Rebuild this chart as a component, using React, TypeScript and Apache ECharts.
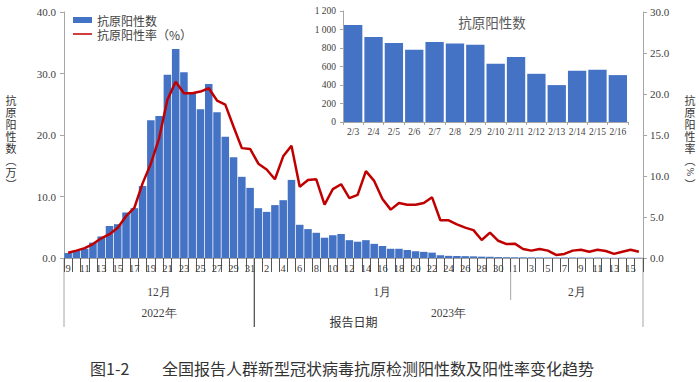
import React, { useEffect, useRef } from "react";
import * as echarts from "echarts";

// Categories (report dates)
const decDays = [9, 10, 11, 12, 13, 14, 15, 16, 17, 18, 19, 20, 21, 22, 23, 24, 25, 26, 27, 28, 29, 30, 31];
const janDays = [1, 2, 3, 4, 5, 6, 7, 8, 9, 10, 11, 12, 13, 14, 15, 16, 17, 18, 19, 20, 21, 22, 23, 24, 25, 26, 27, 28, 29, 30, 31];
const febDays = [1, 2, 3, 4, 5, 6, 7, 8, 9, 10, 11, 12, 13, 14, 15, 16];
const dayLabels = [...decDays, ...janDays, ...febDays].map(String);

// 抗原阳性数（万）
const positiveCount = [
  0.8, 1.2, 1.5, 2.5, 3.5, 5.2, 5.5, 7.4, 8.1, 11.7, 22.4, 23.1, 29.8, 34.0, 30.2, 26.8, 24.2, 28.3, 23.7, 19.7, 16.4, 13.2, 11.4,
  8.1, 7.5, 8.6, 9.4, 12.7, 5.4, 4.7, 4.1, 3.3, 3.7, 3.9, 2.9, 2.65, 2.9, 2.3, 1.95, 1.5, 1.5, 1.3, 1.1, 1.0, 0.87, 0.45, 0.35, 0.33, 0.3, 0.27, 0.22, 0.2, 0.15, 0.13,
  0.12, 0.11, 0.105, 0.092, 0.0855, 0.078, 0.0866, 0.0848, 0.0834, 0.0629, 0.0704, 0.0521, 0.0399, 0.0553, 0.0564, 0.0507,
];

// 抗原阳性率（%）
const positiveRate = [
  0.65, 0.9, 1.2, 1.7, 2.4, 2.9, 3.7, 5.1, 6.1, 9.1, 11.5, 14.6, 19.3, 21.5, 20.1, 20.1, 20.3, 20.7, 19.2, 18.7, 16.0, 13.4, 13.3,
  11.5, 10.8, 9.6, 12.4, 13.7, 8.7, 9.5, 9.6, 6.5, 8.4, 9.0, 7.3, 7.7, 10.6, 9.4, 7.2, 5.9, 6.7, 6.5, 6.5, 6.7, 7.4, 4.6, 4.6, 4.1, 3.7, 3.4, 2.2, 3.1, 2.1, 1.7,
  1.75, 1.1, 0.9, 1.1, 0.9, 0.37, 0.5, 0.9, 1.0, 0.77, 1.0, 0.85, 0.5, 0.77, 1.0, 0.77,
];

// Inset: 2/3 - 2/16 抗原阳性数
const insetLabels = ["2/3", "2/4", "2/5", "2/6", "2/7", "2/8", "2/9", "2/10", "2/11", "2/12", "2/13", "2/14", "2/15", "2/16"];
const insetCount = [1049, 920, 855, 780, 866, 848, 834, 629, 704, 521, 399, 553, 564, 507];

const monthLabels = ["12月", "1月", "2月"];
const yearLabels = ["2022年", "2023年"];
const leftName = ["抗", "原", "阳", "性", "数", "︵", "万", "︶"];
const rightName = ["抗", "原", "阳", "性", "率", "︵", "%", "︶"];

const SERIF = "'Liberation Serif', 'Times New Roman', serif";
const CJK = "'Noto Sans CJK SC', sans-serif";
const BLUE = "#4472C4";
const RED = "#C00000";
const GREY = "#A6A6A6";
const TXT = "#404040";

export default function App() {
  const ref = useRef<HTMLDivElement>(null);
  useEffect(() => {
    const chart = echarts.init(ref.current!, null, { renderer: "svg" });
    const option: any = {
      animation: false,
      textStyle: { fontFamily: SERIF },
      grid: [
        { left: 64, right: 56, top: 12, bottom: 124 },
        { left: 343, right: 71, top: 11, bottom: 260 },
      ],
      legend: {
        data: [
          { name: "抗原阳性数", icon: "rect" },
          { name: "抗原阳性率（%）", icon: "path://M0,0 L20,0 L20,0.01 Z M0,2.2 L20,2.2 L20,3.8 L0,3.8 Z M0,6 L20,6 L20,5.99 Z" },
        ],
        orient: "vertical",
        left: 68,
        top: 9,
        itemWidth: 19,
        itemHeight: 6,
        itemGap: 2,
        textStyle: { fontFamily: CJK, fontSize: 12, color: TXT },
      },
      xAxis: [
        {
          type: "category",
          gridIndex: 0,
          data: dayLabels,
          axisLine: { lineStyle: { color: GREY, width: 1 } },
          axisTick: { show: true, interval: 0, length: 14, lineStyle: { color: "#555" } },
          axisLabel: { interval: 1, fontSize: 10.5, color: TXT, margin: 5, fontFamily: SERIF },
        },
        {
          type: "category",
          gridIndex: 1,
          data: insetLabels,
          axisLine: { lineStyle: { color: GREY } },
          axisTick: { show: true, interval: 0, length: 3, lineStyle: { color: GREY } },
          axisLabel: { interval: 0, fontSize: 9.5, color: TXT, margin: 5, fontFamily: SERIF },
        },
      ],
      yAxis: [
        {
          type: "value",
          gridIndex: 0,
          min: 0,
          max: 40,
          interval: 10,
          axisLine: { show: true, lineStyle: { color: GREY } },
          axisTick: { show: true, length: 4, lineStyle: { color: GREY } },
          splitLine: { show: false },
          axisLabel: { fontSize: 11, color: TXT, margin: 8, formatter: (v: number) => v.toFixed(1) },
        },
        {
          type: "value",
          gridIndex: 0,
          position: "right",
          min: 0,
          max: 30,
          interval: 5,
          axisLine: { show: true, lineStyle: { color: GREY } },
          axisTick: { show: true, length: 4, lineStyle: { color: GREY } },
          splitLine: { show: false },
          axisLabel: { fontSize: 11, color: TXT, margin: 7, formatter: (v: number) => v.toFixed(1) },
        },
        {
          type: "value",
          gridIndex: 1,
          min: 0,
          max: 1200,
          interval: 200,
          axisLine: { show: true, lineStyle: { color: GREY } },
          axisTick: { show: true, length: 3, lineStyle: { color: GREY } },
          splitLine: { show: false },
          axisLabel: {
            fontSize: 9.5,
            color: TXT,
            margin: 7,
            formatter: (v: number) => (v >= 1000 ? `${Math.floor(v / 1000)} ${String(v % 1000).padStart(3, "0")}` : String(v)),
          },
        },
      ],
      series: [
        {
          name: "抗原阳性数",
          type: "bar",
          xAxisIndex: 0,
          yAxisIndex: 0,
          data: positiveCount,
          barCategoryGap: "9%",
          itemStyle: { color: BLUE },
        },
        {
          name: "抗原阳性率（%）",
          type: "line",
          xAxisIndex: 0,
          yAxisIndex: 1,
          data: positiveRate,
          symbol: "none",
          lineStyle: { color: RED, width: 2.5 },
          itemStyle: { color: RED },
        },
        {
          name: "抗原阳性数（2月）",
          type: "bar",
          xAxisIndex: 1,
          yAxisIndex: 2,
          data: insetCount,
          barCategoryGap: "10%",
          itemStyle: { color: BLUE },
        },
      ],
    };
    chart.setOption(option);

    const c0 = chart.convertToPixel({ xAxisIndex: 0 }, 0) as unknown as number;
    const c1 = chart.convertToPixel({ xAxisIndex: 0 }, 1) as unknown as number;
    const step = c1 - c0;
    const edge = (i: number) => c0 + step * (i - 0.5);
    const n = dayLabels.length;
    const xL = edge(0);
    const xJan = edge(decDays.length);
    const xFeb = edge(decDays.length + janDays.length);
    const xR = edge(n);
    const yAxis = 258;

    const vline = (x: number, y2: number, color: string) => ({
      type: "line",
      shape: { x1: x, y1: yAxis, x2: x, y2 },
      style: { stroke: color, lineWidth: 1 },
      silent: true,
    });
    const txt = (x: number, y: number, text: string, fontSize: number, family: string, color = TXT, extra: any = {}) => ({
      type: "text",
      x,
      y,
      style: { text, fontSize, fontFamily: family, fill: color, align: "center", verticalAlign: "middle", ...extra },
      silent: true,
    });

    // vertical axis names, one character per line (stacked as in the reference)
    const nameY0 = 100;
    const namePitch = 12;
    const nameChars = (chars: string[], x: number) =>
      chars.map((ch, k) => {
        const y = nameY0 + namePitch * k;
        if (ch === "%") {
          return {
            type: "text",
            x,
            y,
            rotation: -Math.PI / 2,
            style: { text: ch, fontSize: 10, fontFamily: SERIF, fill: "#333", align: "center", verticalAlign: "middle" },
            silent: true,
          };
        }
        return txt(x, y, ch, 11, CJK, "#333");
      });

    const graphics: any[] = [
      vline(xL, 327, GREY),
      vline(xJan, 327, "#222"),
      vline(xFeb, 300, GREY),
      vline(xR, 327, GREY),
      txt((xL + xJan) / 2, 292, monthLabels[0], 11.5, SERIF),
      txt((xJan + xFeb) / 2, 292, monthLabels[1], 11.5, SERIF),
      txt((xFeb + xR) / 2, 292, monthLabels[2], 11.5, SERIF),
      txt((xL + xJan) / 2, 313, yearLabels[0], 11.5, SERIF),
      txt((xJan + xR) / 2, 313, yearLabels[1], 11.5, SERIF),
      txt((xL + xR) / 2, 321, "报告日期", 12, CJK, "#333"),
      // inset title
      txt(492, 22, "抗原阳性数", 13.5, CJK, "#595959"),
      ...nameChars(leftName, 11),
      ...nameChars(rightName, 690),
      // caption
      {
        type: "text",
        x: 90,
        y: 368,
        style: { text: "图1-2", fontSize: 16, fontFamily: CJK, fill: "#333", align: "left", verticalAlign: "middle" },
        silent: true,
      },
      {
        type: "text",
        x: 162,
        y: 368,
        style: {
          text: "全国报告人群新型冠状病毒抗原检测阳性数及阳性率变化趋势",
          fontSize: 16,
          fontFamily: CJK,
          fill: "#333",
          align: "left",
          verticalAlign: "middle",
        },
        silent: true,
      },
    ];
    chart.setOption({ graphic: graphics });
    return () => chart.dispose();
  }, []);
  return <div ref={ref} style={{ position: "absolute", left: 0, top: 0, width: 699, height: 382 }} />;
}
